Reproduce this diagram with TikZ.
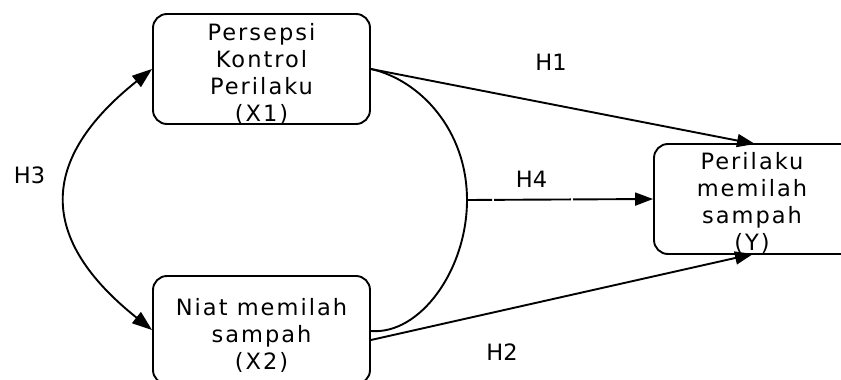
\documentclass[tikz,border=0pt]{standalone}
\usepackage{fontspec}
\setmainfont{DejaVu Sans}
\newfontfamily\boxfont{DejaVu Sans}[LetterSpace=9]
\usetikzlibrary{arrows.meta}
\begin{document}
\begin{tikzpicture}[x=1pt,y=-1pt,line width=1.9pt,
  box/.style={draw,rounded corners=14pt,inner sep=0pt,minimum width=217pt,minimum height=110pt},
  boxtext/.style={align=center,font=\boxfont\fontsize{22.5}{27}\selectfont,inner sep=0pt},
  hyp/.style={font=\fontsize{22.5}{27}\selectfont,anchor=base,inner sep=0pt},
  tip/.style={-{Triangle[length=18pt,width=13pt]}},
  bigtips/.style={{Triangle[length=20pt,width=14pt]}-{Triangle[length=20pt,width=14pt]}}]
\useasboundingbox (0,0) rectangle (841,380);
% boxes
\node[box] (X1) at (261.5,69) {};
\node[box,minimum height=108pt] (X2) at (261.5,330) {};
\node[box,minimum width=230pt] (Y) at (769,199) {};
\node[boxtext] (X1t) at ([yshift=-4.5pt]X1.center) {Persepsi\\Kontrol\\Perilaku\\(X1)};
\node[boxtext] (X2t) at ([yshift=-5pt]X2.center) {Niat memilah\\sampah\\(X2)};
\node[boxtext] (Yt) at (752,202.5) {Perilaku\\memilah\\sampah\\(Y)};
% connectors
\coordinate (YN) at (755,144);
\coordinate (YS) at (753,254);
\draw[tip] (X1.east) -- (YN);
\draw[tip] ([yshift=-10pt]X2.east) -- (YS);
\draw[bigtips] (X1.west) .. controls (38,160) and (38,239) .. (X2.west);
\coordinate (J) at (467,200);
\draw (X1.east) .. controls (420,80) and (467,130) .. (J)
      .. controls (467,270) and (420,335) .. ([yshift=-1pt]X2.east);
\draw[tip,dash pattern=on 25pt off 2pt on 77pt off 2pt on 300pt] (J) -- (Y.west);
% labels
\node[hyp] (H1) at (551,70) {H1};
\node[hyp] (H4) at (531.5,187) {H4};
\node[hyp] (H3) at (29.5,183) {H3};
\node[hyp] (H2) at (502,360) {H2};
\end{tikzpicture}
\end{document}
